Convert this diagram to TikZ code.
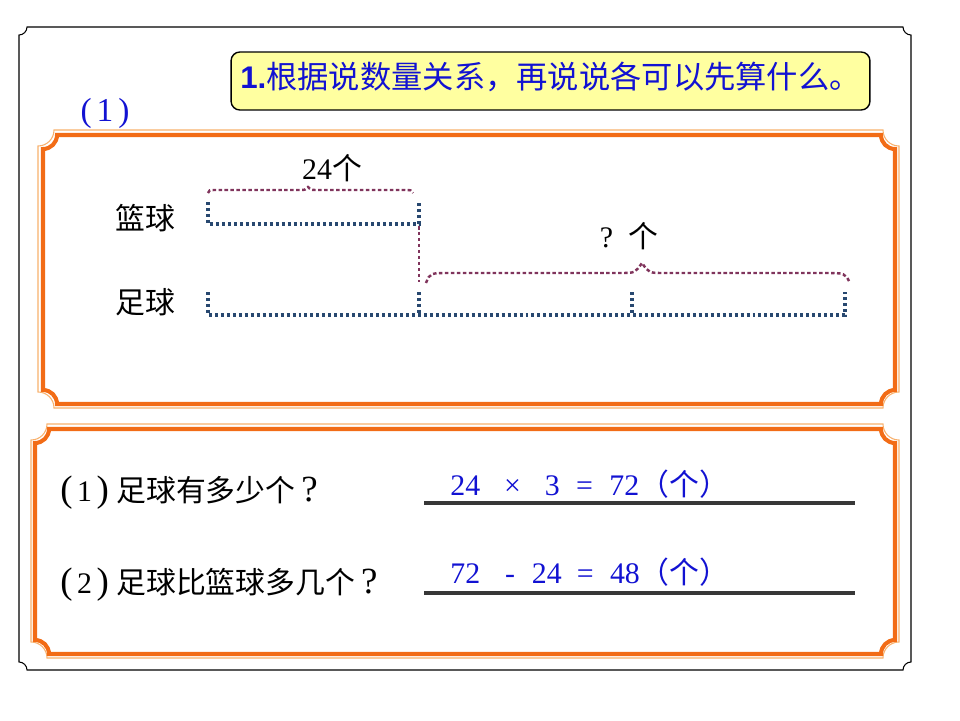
\documentclass[tikz,border=0pt]{standalone}
\usepackage{fontspec}
\setmainfont{Liberation Serif}
\newfontfamily\zh{Noto Sans CJK SC}
\newfontfamily\titlesans{Liberation Sans}
\definecolor{frameorange}{RGB}{242,108,22}
\definecolor{framelight}{RGB}{248,176,108}
\definecolor{notepaper}{RGB}{255,255,160}
\definecolor{inkblue}{RGB}{18,18,210}
\definecolor{barblue}{RGB}{40,72,112}
\definecolor{bracepurple}{RGB}{128,52,92}
\definecolor{ruledark}{RGB}{55,55,55}
\tikzset{
  word/.style={text=black, inner sep=0pt, font=\fontsize{17pt}{20pt}\selectfont},
  answer/.style={text=inkblue, inner sep=0pt, anchor=base west, font=\fontsize{17pt}{20pt}\selectfont},
  titlebox/.style={draw=black, fill=notepaper, line width=0.8pt, rounded corners=5pt,
    text=inkblue, inner sep=0pt, font=\fontsize{17.8pt}{21pt}\selectfont},
  bar/.style={draw=barblue, line width=1.9pt, dash pattern=on 1.7pt off 1.7pt},
  brace/.style={draw=bracepurple, line width=1.4pt, dash pattern=on 2pt off 1.4pt},
  answerline/.style={draw=ruledark, line width=1.9pt},
  pageedge/.style={draw=black, line width=0.6pt},
  orangeframe/.style={draw=frameorange, line width=2.3pt},
  orangeedge/.style={draw=framelight, line width=0.6pt}
}
% frame with concave corners: style, x1, y1, x2, y2, notch radius (px)
\newcommand\notchframe[6]{%
  \draw[#1] ({#2+#6},#3) -- ({#4-#6},#3)
    arc[start angle=180, end angle=270, radius=#6*0.02cm] -- (#4,{#5-#6})
    arc[start angle=90, end angle=180, radius=#6*0.02cm] -- ({#2+#6},#5)
    arc[start angle=0, end angle=90, radius=#6*0.02cm] -- (#2,{#3+#6})
    arc[start angle=270, end angle=360, radius=#6*0.02cm] -- cycle;}
% numbered question mark-up
\newcommand\qnum[1]{{\fontsize{21pt}{21pt}\selectfont(}\hspace{0.15em}#1\hspace{0.15em}{\fontsize{21pt}{21pt}\selectfont)}\hspace{0.25em}}
\newcommand\qmark{\hspace{0.2em}{\fontsize{21pt}{21pt}\selectfont ?}}

\begin{document}
\begin{tikzpicture}[x=0.02cm, y=-0.02cm]
  \useasboundingbox (0,0) rectangle (960,720);
  % page and panels
  \notchframe{pageedge}{19}{27}{911}{670}{8}
  \notchframe{orangeedge}{38}{130}{899}{408}{16}
  \notchframe{orangeframe}{43}{135}{895}{404}{14}
  \notchframe{orangeedge}{31}{424}{899}{658}{16}
  \notchframe{orangeframe}{35}{429}{895}{654}{14}

  % heading
  \node[titlebox, minimum width=12.78cm, minimum height=1.16cm,
    text height=0.71cm, text depth=0.43cm] (title) at (550.5,81)
    {{\titlesans\bfseries 1.}{\zh 根据说数量关系，再说说各可以先算什么。}};
  \node[word, text=inkblue, font=\fontsize{19pt}{22pt}\selectfont] (part) at (105,113)
    {(\hspace{0.15em}1\hspace{0.15em})};

  % line diagram
  \node[word] (basket) at (145,218) {\zh 篮球};
  \node[word] (foot) at (145,302) {\zh 足球};
  \node[word] (known) at (332,168) {24{\zh 个}};
  \node[word] (unknown) at (629,236) {?\hspace{0.5em}{\zh 个}};

  \draw[bar] (208,202) -- (208,224) -- (419,224) -- (419,202);
  \draw[bar] (208,292) -- (208,315) -- (845,315) -- (845,292);
  \foreach \tx in {419,632}
    \draw[bar] (\tx,292) -- (\tx,315);

  \draw[brace] (208,193) .. controls (209,190) .. (216,190) -- (300,190)
    .. controls (305,190) .. (308,187) .. controls (311,190) .. (316,190)
    -- (405,190) .. controls (411,190) .. (413,193);
  \draw[brace] (419,226) -- (419,282);
  \draw[brace] (426,283) .. controls (430,273) .. (450,273) -- (620,273)
    .. controls (635,273) .. (642,263) .. controls (649,273) .. (664,273)
    -- (825,273) .. controls (845,273) .. (850,283);

  % questions and answers
  \node[word, anchor=base west] (ask1) at (60,501) {\qnum{1}{\zh 足球有多少个}\qmark};
  \node[word, anchor=base west] (ask2) at (60,593) {\qnum{2}{\zh 足球比篮球多几个}\qmark};
  \node[answer] (calc1) at (450,495)
    {24\hspace{0.8em}×\hspace{0.8em}3\hspace{0.55em}=\hspace{0.55em}72{\zh （个）}};
  \node[answer] (calc2) at (450,583)
    {72\hspace{0.83em}-\hspace{0.57em}24\hspace{0.5em}=\hspace{0.55em}48{\zh （个）}};
  \draw[answerline] (424,503) -- (855,503);
  \draw[answerline] (424,593) -- (855,593);
\end{tikzpicture}
\end{document}
